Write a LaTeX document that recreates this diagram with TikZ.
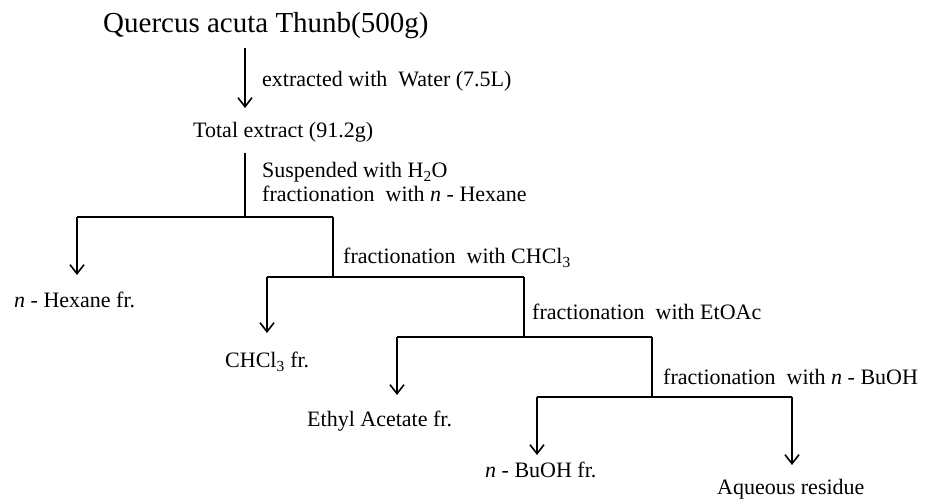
\documentclass[tikz,border=0pt]{standalone}
\usepackage{fontspec}
\setmainfont{Liberation Serif}
\usetikzlibrary{arrows.meta}
\begin{document}
\begin{tikzpicture}[x=1pt,y=-1pt,
  lbl/.style={anchor=base west, inner sep=0pt, font=\fontsize{22}{24}\selectfont},
  ttl/.style={anchor=base west, inner sep=0pt, font=\fontsize{29}{32}\selectfont},
  ln/.style={line width=1.7pt},
  arr/.style={ln, -{Straight Barb[length=9pt,width=14pt,line width=1.6pt]}}]
\path[use as bounding box, fill=white] (0,0) rectangle (927,502);

% texts
\node[ttl] (title) at (103,33) {Quercus acuta Thunb(500g)};
\node[lbl] (ext) at (262,87) {extracted with\ \ Water (7.5L)};
\node[lbl] (total) at (193,138) {Total extract (91.2g)};
\node[lbl] (susp) at (262,178) {Suspended with H\textsubscript{2}O};
\node[lbl] (fhex) at (262,202) {fractionation\ \ with \textit{n} - Hexane};
\node[lbl] (fchl) at (343,264) {fractionation\ \ with CHCl\textsubscript{3}};
\node[lbl] (hex) at (14,308) {\textit{n} - Hexane fr.};
\node[lbl] (chl) at (225,368) {CHCl\textsubscript{3} fr.};
\node[lbl] (feto) at (532,320) {fractionation\ \ with EtOAc};
\node[lbl] (eth) at (307,427) {Ethyl Acetate fr.};
\node[lbl] (fbu) at (663,385) {fractionation\ \ with \textit{n} - BuOH};
\node[lbl] (bu) at (485,478) {\textit{n} - BuOH fr.};
\node[lbl] (aq) at (717,495) {Aqueous residue};

% junction coordinates
\coordinate (a0) at (245,48);
\coordinate (a0e) at (245,108);
\coordinate (s0) at (245,153);
\coordinate (j1) at (245,217);
\coordinate (h1l) at (77,217);
\coordinate (h1r) at (333,217);
\coordinate (e1) at (77,275);
\coordinate (j2) at (333,277);
\coordinate (h2l) at (267,277);
\coordinate (h2r) at (524,277);
\coordinate (e2) at (267,333);
\coordinate (j3) at (524,337);
\coordinate (h3l) at (397,337);
\coordinate (h3r) at (652,337);
\coordinate (e3) at (397,395);
\coordinate (j4) at (652,397);
\coordinate (h4l) at (537,397);
\coordinate (h4r) at (792,397);
\coordinate (e4) at (537,455);
\coordinate (e5) at (792,465);

% connectors
\draw[arr] (a0) -- (a0e);
\draw[ln] (s0) -- (j1);
\draw[ln] (h1l) -- (h1r);
\draw[arr] (h1l) -- (e1);
\draw[ln] (h1r) -- (j2);
\draw[ln] (h2l) -- (h2r);
\draw[arr] (h2l) -- (e2);
\draw[ln] (h2r) -- (j3);
\draw[ln] (h3l) -- (h3r);
\draw[arr] (h3l) -- (e3);
\draw[ln] (h3r) -- (j4);
\draw[ln] (h4l) -- (h4r);
\draw[arr] (h4l) -- (e4);
\draw[arr] (h4r) -- (e5);
\end{tikzpicture}
\end{document}
